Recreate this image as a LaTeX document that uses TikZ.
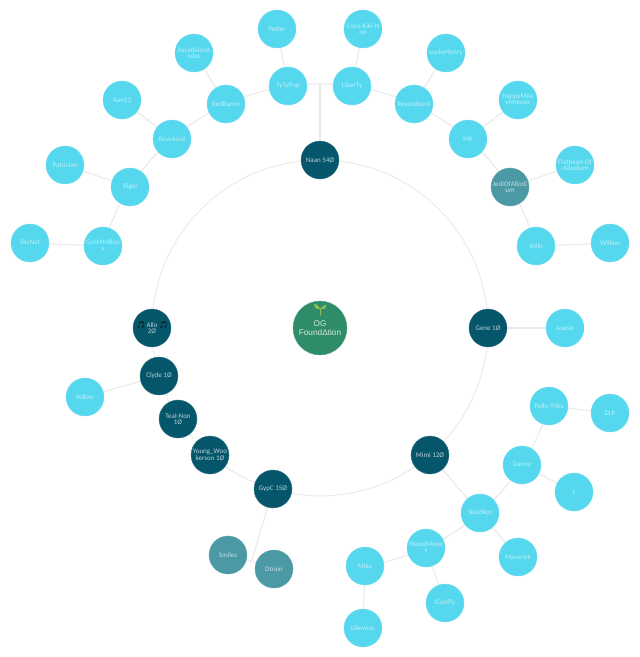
\documentclass[tikz,border=0pt]{standalone}
\usepackage{fontspec}
\setmainfont{Carlito}
\newfontfamily\symfont{Noto Emoji}
\newfontfamily\rootfont{Liberation Sans}
\definecolor{leafblue}{HTML}{55D7EE}
\definecolor{deepteal}{HTML}{05566B}
\definecolor{midteal}{HTML}{4A99A5}
\definecolor{rootgreen}{HTML}{2F8C69}
\definecolor{linkgrey}{HTML}{EAEAEA}
\definecolor{sprout}{HTML}{8CC152}
\definecolor{notegrey}{HTML}{0C1A1F}
\pgfdeclarelayer{paper}
\pgfdeclarelayer{links}
\pgfsetlayers{paper,links,main}
\newcommand{\notemark}{\textcolor{notegrey}{\symfont\fontsize{6.8}{6}\selectfont\char"1F3B5}}
\tikzset{
  disc/.style={circle,inner sep=0pt,minimum size=38pt,align=center,
    font=\fontsize{7}{6}\selectfont},
  leaf/.style={disc,fill=leafblue,draw=leafblue!85!white,line width=.4pt,text=white!62!leafblue},
  branch/.style={disc,fill=deepteal,draw=deepteal!80!white,line width=.4pt,text=white!72!deepteal},
  muted/.style={disc,fill=midteal,draw=midteal!85!white,line width=.4pt,text=white!68!midteal},
  root/.style={circle,inner sep=0pt,minimum size=54pt,fill=rootgreen,draw=rootgreen!80!white,
    line width=.4pt,text=white!80!rootgreen,align=center,font=\rootfont\fontsize{8.3}{9}\selectfont},
  link/.style={draw=linkgrey,line width=1.1pt},
  ringlink/.style={draw=linkgrey,line width=.9pt}
}
\begin{document}
\begin{tikzpicture}[x=1pt,y=-1pt]
\useasboundingbox (0,0) rectangle (640,657);
\begin{pgfonlayer}{paper}
\fill[white] (0,0) rectangle (640,657);
\end{pgfonlayer}

% root and main ring
\node[root] (og) at (320,328) {OG\\Found\char"0394 tion};
\node[branch] (naan) at (320,160) {Naan 54Ø};
\node[branch] (gene) at (488,328) {Gene 1Ø};
\node[branch] (mimi) at (430,455) {Mimi 12Ø};
\node[branch] (gypc) at (273,489) {GypC 15Ø};
\node[branch] (young) at (210,455) {Young\_Woo\\kerson 1Ø};
\node[branch] (teal) at (178,419) {Teal-Non\\1Ø};
\node[branch] (clyde) at (159,376) {Clyde 1Ø};
\node[branch] (allo) at (152,328) {\notemark{} Allo \notemark\\2Ø};

% upper arc of members
\node[leaf] (tyty) at (288,86) {TyTyPup};
\node[leaf] (liberty) at (352,86) {LiberTy};
\node[leaf] (petter) at (277,29) {Petter};
\node[leaf] (coco) at (363,29) {Coco-Kiki-N\\on};
\node[leaf] (redbaron) at (226,104) {RedBaron};
\node[leaf] (asya) at (194,53) {AsyadelosA\\ndes};
\node[leaf] (revokind) at (172,139) {Revokind};
\node[leaf] (aan) at (122,100) {Aan13};
\node[leaf] (rigel) at (130,187) {Rigel};
\node[leaf] (patrician) at (65,165) {Patrician};
\node[leaf] (grn) at (103,246) {GrnMtnBuo\\y};
\node[leaf] (skynet) at (30,243) {SkyNet};
\node[leaf] (revx) at (414,104) {RevelationX};
\node[leaf] (lucky) at (446,53) {LuckyHenry};
\node[leaf] (mk) at (468,139) {MK};
\node[leaf] (happy) at (518,100) {HappyMiss\\yMooser};
\node[muted] (jedi) at (510,187) {JediOfAllodi\\um};
\node[leaf] (flathead) at (575,165) {Flathead-Of\\-Allodium};
\node[leaf] (shilo) at (536,246) {Shilo};
\node[leaf] (willow) at (610,243) {Willow};

% lower right group
\node[leaf] (jeanie) at (565,328) {Jeanie};
\node[leaf] (palle) at (549,406) {Palle-Triks};
\node[leaf] (dlk) at (610,413) {DLK};
\node[leaf] (danny) at (522,465) {Danny};
\node[leaf] (ell) at (574,492) {L};
\node[leaf] (skizz) at (480,513) {Skizzikpr};
\node[leaf] (maverick) at (518,557) {Maverick};
\node[leaf] (ineed) at (426,548) {INeedMone\\y};
\node[leaf] (mike) at (365,566) {Mike};
\node[leaf] (likewise) at (363,628) {Likewise};
\node[leaf] (icanfly) at (445,603) {ICanFly};

% lower left group
\node[leaf] (yellow) at (85,397) {Yellow};
\node[muted] (smiles) at (228,555) {Smiles};
\node[muted] (dtrain) at (274,569) {Dtrain};

% sibling midpoints that receive a parent's link
\coordinate (topjoin) at (320,83.5);
\coordinate (lowjoin) at (251,563);

% sprout over the root label
\draw[sprout,line width=1pt,line cap=round] (320.5,315) .. controls (321,312) and (320.5,310) .. (320,308);
\fill[sprout] (320,309) .. controls (318,304) and (316,304) .. (314,304) .. controls (314,307) and (316,309.5) .. (320,309) -- cycle;
\fill[sprout] (320.5,309) .. controls (322,306) and (324,305) .. (326.5,305) .. controls (326,308) and (324,310) .. (320.5,309) -- cycle;

\begin{pgfonlayer}{links}
  % main ring
  \draw[ringlink] (naan.center) to[bend left=45] (gene.center);
  \draw[ringlink] (gene.center) to[bend left=24.5,looseness=.89] (mimi.center);
  \draw[ringlink] (mimi.center) to[bend left=28.8,looseness=.91] (gypc.center);
  \draw[ringlink] (gypc.center) to[bend left=12.2,looseness=.86] (young.center);
  \draw[ringlink] (young.center) to[bend left=8.2,looseness=.855] (teal.center);
  \draw[ringlink] (teal.center) to[bend left=8,looseness=.855] (clyde.center);
  \draw[ringlink] (clyde.center) to[bend left=8.3,looseness=.855] (allo.center);
  \draw[ringlink] (allo.center) to[bend left=45] (naan.center);

  % outer arc through the members
  \draw[link] (tyty.center) to[bend left=7.5,looseness=.85] (liberty.center);
  \draw[link] (liberty.center) to[bend left=7.5,looseness=.85] (revx.center);
  \draw[link] (revx.center) to[bend left=7.5,looseness=.85] (mk.center);
  \draw[link] (mk.center) to[bend left=7.5,looseness=.85] (jedi.center);
  \draw[link] (jedi.center) to[bend left=7.5,looseness=.85] (shilo.center);
  \draw[link] (tyty.center) to[bend right=7.5,looseness=.85] (redbaron.center);
  \draw[link] (redbaron.center) to[bend right=7.5,looseness=.85] (revokind.center);
  \draw[link] (revokind.center) to[bend right=7.5,looseness=.85] (rigel.center);
  \draw[link] (rigel.center) to[bend right=7.5,looseness=.85] (grn.center);
  \draw[link] (naan.center) -- (topjoin);

  % outermost spokes
  \draw[link] (tyty) -- (petter);
  \draw[link] (liberty) -- (coco);
  \draw[link] (redbaron) -- (asya);
  \draw[link] (revokind) -- (aan);
  \draw[link] (rigel) -- (patrician);
  \draw[link] (grn) -- (skynet);
  \draw[link] (revx) -- (lucky);
  \draw[link] (mk) -- (happy);
  \draw[link] (jedi) -- (flathead);
  \draw[link] (shilo) -- (willow);

  % lower right
  \draw[link] (gene) -- (jeanie);
  \draw[link] (mimi) -- (skizz);
  \draw[link] (skizz.center) to[bend right=7.5,looseness=.85] (danny.center);
  \draw[link] (danny.center) to[bend right=7.5,looseness=.85] (palle.center);
  \draw[link] (skizz.center) to[bend left=7.5,looseness=.85] (ineed.center);
  \draw[link] (ineed.center) to[bend left=7.5,looseness=.85] (mike.center);
  \draw[link] (palle) -- (dlk);
  \draw[link] (danny) -- (ell);
  \draw[link] (skizz) -- (maverick);
  \draw[link] (ineed) -- (icanfly);
  \draw[link] (mike) -- (likewise);

  % lower left
  \draw[link] (clyde) -- (yellow);
  \draw[link] (smiles.center) to[bend left=5,looseness=.85] (dtrain.center);
  \draw[link] (gypc.center) -- (lowjoin);
\end{pgfonlayer}
\end{tikzpicture}
\end{document}
